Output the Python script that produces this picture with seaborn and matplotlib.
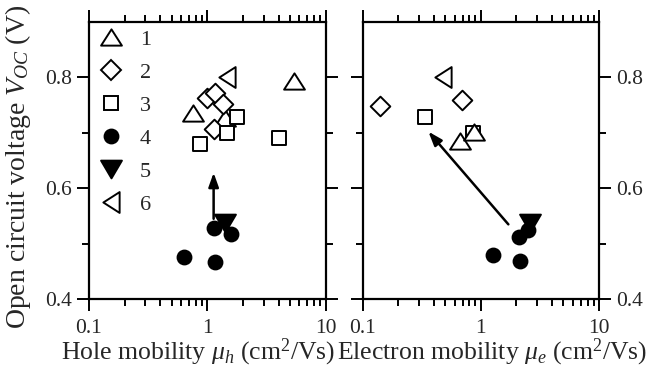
import numpy as np
import pandas as pd
import matplotlib
matplotlib.use("Agg")
import matplotlib.pyplot as plt
import seaborn as sns
from matplotlib.path import Path
from matplotlib.lines import Line2D

sns.set_theme(style="ticks")
plt.rcParams['font.family'] = ['Liberation Serif', 'DejaVu Serif']
plt.rcParams['mathtext.fontset'] = 'custom'
plt.rcParams['mathtext.rm'] = 'Liberation Serif'
plt.rcParams['mathtext.it'] = 'Liberation Serif:italic'

# ---- data ----
series = ["1", "2", "3", "4", "5", "6"]
# hole mobility panel
h_mu_1 = [0.76, 5.4, 1.42]
h_v_1 = [0.735, 0.794, 0.726]
h_mu_2 = [1.0, 1.17, 1.36, 1.13]
h_v_2 = [0.762, 0.772, 0.751, 0.707]
h_mu_3 = [1.78, 1.47, 0.86, 4.0]
h_v_3 = [0.729, 0.700, 0.680, 0.690]
h_mu_4 = [1.13, 1.59, 0.64, 1.15]
h_v_4 = [0.528, 0.518, 0.477, 0.468]
h_mu_5 = [1.42]
h_v_5 = [0.537]
h_mu_6 = [1.47]
h_v_6 = [0.800]
# electron mobility panel
e_mu_2 = [0.14, 0.69]
e_v_2 = [0.749, 0.759]
e_mu_3 = [0.34, 0.86]
e_v_3 = [0.729, 0.700]
e_mu_1 = [0.67, 0.87]
e_v_1 = [0.686, 0.701]
e_mu_4 = [2.12, 2.52, 1.28, 2.14]
e_v_4 = [0.513, 0.524, 0.479, 0.469]
e_mu_5 = [2.6]
e_v_5 = [0.538]
e_mu_6 = [0.48]
e_v_6 = [0.800]
# arrows (start -> end) in data units
h_arrow = [(1.13, 0.545), (1.13, 0.628)]
e_arrow = [(1.71, 0.535), (0.36, 0.702)]

tri_up = Path([(0, 0.78), (-1, -0.78), (1, -0.78), (0, 0.78)],
              [Path.MOVETO, Path.LINETO, Path.LINETO, Path.CLOSEPOLY])
tri_dn = Path([(0, -0.85), (-1, 0.85), (1, 0.85), (0, -0.85)],
              [Path.MOVETO, Path.LINETO, Path.LINETO, Path.CLOSEPOLY])
tri_lf = Path([(-0.78, 0), (0.78, 1), (0.78, -1), (-0.78, 0)],
              [Path.MOVETO, Path.LINETO, Path.LINETO, Path.CLOSEPOLY])

style = {
    "1": dict(marker=tri_up, s=225, fc="white"),
    "2": dict(marker="D", s=100, fc="white"),
    "3": dict(marker="s", s=100, fc="white"),
    "4": dict(marker="o", s=100, fc="black"),
    "5": dict(marker=tri_dn, s=225, fc="black"),
    "6": dict(marker=tri_lf, s=225, fc="white"),
}

fig = plt.figure(figsize=(6.51, 3.73), dpi=100)
axL = fig.add_axes([0.1367, 0.1976, 0.3636, 0.7442])
axR = fig.add_axes([0.5571, 0.1976, 0.3630, 0.7442])

hole = {"1": (h_mu_1, h_v_1), "2": (h_mu_2, h_v_2), "3": (h_mu_3, h_v_3),
        "5": (h_mu_5, h_v_5), "4": (h_mu_4, h_v_4), "6": (h_mu_6, h_v_6)}
elec = {"3": (e_mu_3, e_v_3), "1": (e_mu_1, e_v_1), "2": (e_mu_2, e_v_2),
        "5": (e_mu_5, e_v_5), "4": (e_mu_4, e_v_4), "6": (e_mu_6, e_v_6)}

for ax, dat in ((axL, hole), (axR, elec)):
    for key, (mu, v) in dat.items():
        st = style[key]
        df = pd.DataFrame({"mu": mu, "v": v})
        sns.scatterplot(data=df, x="mu", y="v", ax=ax, marker=st["marker"],
                        s=st["s"], color=st["fc"], edgecolor="black",
                        linewidth=1.4, zorder=3)

for ax, (p0, p1) in ((axL, h_arrow), (axR, e_arrow)):
    ax.annotate("", xy=p1, xytext=p0,
                arrowprops=dict(arrowstyle="-|>,head_length=0.7,head_width=0.25",
                                color="black", lw=1.8, shrinkA=0, shrinkB=0),
                zorder=4)

for ax in (axL, axR):
    ax.set_xscale("log")
    ax.set_xlim(0.1, 10)
    ax.set_ylim(0.4, 0.9)
    ax.set_yticks([0.4, 0.6, 0.8])
    ax.set_yticks([0.5, 0.7], minor=True)
    ax.set_xticks([0.1, 1, 10])
    ax.set_xticklabels(["0.1", "1", "10"])
    ax.tick_params(which="both", direction="out", top=True, right=True,
                   left=True, bottom=True, width=1.4, labelsize=15.5, color="black")
    ax.tick_params(which="major", length=8.5, pad=4)
    ax.tick_params(axis="x", which="major", pad=6)
    ax.tick_params(which="minor", length=5)
    for sp in ax.spines.values():
        sp.set_linewidth(1.6)
        sp.set_color("black")
    ax.set_ylabel("")

axL.set_ylabel("Open circuit voltage $V_{OC}$ (V)", fontsize=20)
axL.yaxis.set_label_coords(-0.237, 0.478)
axL.set_xlabel(r"Hole mobility $\mu_h$ (cm$^2$/Vs)", fontsize=18.5)
axL.xaxis.set_label_coords(0.463, -0.136)
axR.set_xlabel(r"Electron mobility $\mu_e$ (cm$^2$/Vs)", fontsize=18.5)
axR.xaxis.set_label_coords(0.547, -0.136)
axR.yaxis.set_ticks_position("both")
axR.tick_params(labelleft=False, labelright=True)

handles = []
for key in series:
    st = style[key]
    ms = np.sqrt(st["s"])
    handles.append(Line2D([], [], ls="none", marker=st["marker"], markersize=ms,
                          markerfacecolor=st["fc"], markeredgecolor="black",
                          markeredgewidth=1.4))
axL.legend(handles, series, loc="upper left", frameon=False, fontsize=16,
           handletextpad=0.65, labelspacing=0.56, borderaxespad=0.1,
           handlelength=1.3, borderpad=0.25)

fig.savefig("out.png", dpi=100)
